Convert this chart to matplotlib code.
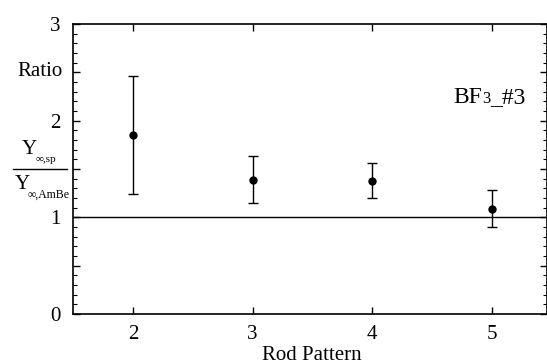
import matplotlib.pyplot as plt
import numpy as np
from matplotlib.ticker import MultipleLocator, FuncFormatter

plt.rcParams['font.family'] = ['Liberation Serif', 'DejaVu Serif']

# rod pattern vs ratio of Y_inf (sp / AmBe), BF3 #3
pattern = [2, 3, 4, 5]
ratio = [1.85, 1.39, 1.38, 1.09]
err = [0.61, 0.24, 0.18, 0.19]
xticks = [2, 3, 4, 5]

fig = plt.figure(figsize=(5.47, 3.63), dpi=100)
ax = fig.add_axes([73/547, 49/363, 474/547, 290/363])

ax.axhline(1, color='black', lw=1.0)
ax.errorbar(pattern, ratio, yerr=err, fmt='o', color='black', ms=5,
            capsize=3.5, elinewidth=1.0, capthick=1.0)

ax.set_xlim(1.5, 5.46)
ax.set_ylim(0, 3)
ax.set_xticks(xticks)
ax.yaxis.set_major_locator(MultipleLocator(0.5))
ax.yaxis.set_minor_locator(MultipleLocator(0.1))
ax.yaxis.set_major_formatter(FuncFormatter(lambda v, p: '%d' % v if abs(v - round(v)) < 1e-6 else ''))
ax.tick_params(which='both', direction='in', top=True, right=True,
               labelsize=15)
ax.tick_params(which='major', length=5, width=1)
ax.tick_params(which='minor', length=3, width=0.8)
ax.tick_params(axis='y', pad=9)
ax.tick_params(axis='x', pad=8)
for s in ax.spines.values():
    s.set_linewidth(1.2)

fig.text(312/547, 1 - 355/363, 'Rod Pattern', ha='center', va='center', fontsize=15)
fig.text(63/547, 1 - 71/363, 'Ratio', ha='right', va='center', fontsize=15)

# fraction label
fig.text(22/547, 1 - 154/363, 'Y', ha='left', va='baseline', fontsize=15)
fig.text(36/547, 1 - 162/363, '\u221e,sp', ha='left', va='baseline', fontsize=8)
fig.add_artist(plt.Line2D([13/547, 67/547], [1 - 169/363, 1 - 169/363],
                          color='black', lw=1))
fig.text(15/547, 1 - 189/363, 'Y', ha='left', va='baseline', fontsize=15)
fig.text(28/547, 1 - 198/363, '\u221e,AmBe', ha='left', va='baseline', fontsize=8.5)

# BF3_#3, pieces chained left to right
fig.canvas.draw()
r = fig.canvas.get_renderer()
xpos = 453
for txt, size in [('BF', 17), ('3', 12), ('_#3', 17)]:
    t = fig.text(xpos/547, 1 - 103/363, txt, ha='left', va='baseline', fontsize=size)
    xpos += t.get_window_extent(r).width

fig.savefig('out.png', dpi=100)
